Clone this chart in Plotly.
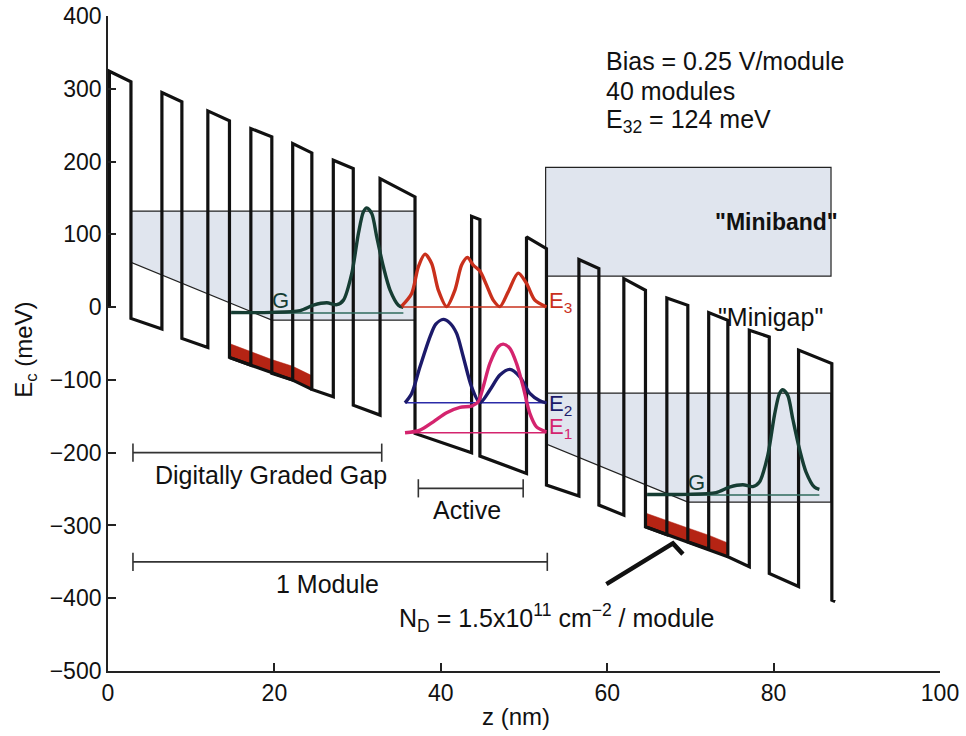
import plotly.graph_objects as go

FONT = "Liberation Sans, Arial, Helvetica, sans-serif"

# ---------------- data ----------------
# conduction-band layer structure (nm) and well-floor energy at each barrier edge (meV)
barrier_left_z = [0.17, 6.48, 12.0, 17.17, 22.2, 27.08, 32.7, 43.7, 50.3, 56.6, 62.0, 67.17, 72.2, 77.08, 83.0]
barrier_right_z = [2.76, 8.88, 14.6, 19.69, 24.5, 29.48, 36.9, 44.7, 52.7, 59.0, 64.6, 69.69, 74.5, 79.48, 87.0]
floor_left_E = [-1, -30.2, -55.4, -79.7, -100.3, -123.2, -148.4, -200.2, -228.5, -259.7, -285.8, -312.6, -332.4, -356.8, -384]
floor_right_E = [-15.5, -43, -69.1, -91.1, -113.1, -134.7, -173.6, -204.7, -244.6, -272, -301.9, -322.5, -343, -365.9, -402.6]
barrier_height = 325
tail_z, tail_E = 87.4, -404.5

module_period = 50      # nm
module_drop = 250       # meV (0.25 V/module)

# doped layers (nm) and sheet thickness drawn (meV)
doped_ranges = [(14.6, 24.5), (64.6, 74.5)]
doped_height = 19

# graded-gap "miniband" shading (first module, repeated in the next)
shade_z = [2.76, 36.9, 36.9, 19.7, 2.76, 2.76]
shade_E = [131.9, 131.9, -17.9, -17.9, 61.5, 131.9]

# "Miniband" box
miniband_z = [52.6, 86.9]
miniband_E = [42.6, 192]

# ground state G of the injector
G_z = [14.8, 19.6, 23.1, 24.7, 26.3, 27.5, 28.3, 29.3, 30.1, 30.7, 31.1, 31.7, 32.3, 33.1, 33.9, 34.9, 35.5]
G_E = [-7.5, -7.3, -4.8, 2.7, 5.9, 3.4, 9.6, 46.3, 101.3, 130.9, 136.4, 128.7, 96.6, 55.4, 23.4, 2.7, -0.4]
G_level = -8.2
G_level_z = [14.8, 35.5]

# active-region states
E3_z = [35.3, 36.5, 37.3, 38.1, 38.9, 39.7, 40.7, 41.7, 42.5, 43.2, 43.9, 44.7, 45.5, 46.3, 47.1, 48.1, 49.3, 50.3, 51.3, 52.7]
E3_E = [1.4, 18.8, 55.4, 72.8, 60.0, 23.4, 0.7, 23.4, 57.7, 68.3, 57.7, 49.5, 30.2, 9.6, 0.7, 21.0, 46.7, 32.6, 9.6, 0.4]
E2_z = [35.7, 36.5, 37.5, 38.7, 39.4, 40.3, 41.1, 41.9, 42.7, 43.7, 44.7, 45.9, 47.1, 48.3, 49.5, 50.7, 51.9, 52.7]
E2_E = [-131.5, -118.6, -82.0, -40.8, -23.4, -16.9, -22.0, -36.1, -68.3, -109.5, -131.5, -114.0, -93.4, -85.6, -95.8, -118.6, -128.7, -131.5]
E1_z = [35.7, 37.5, 39.1, 40.7, 42.3, 43.7, 44.5, 45.1, 45.9, 46.9, 47.5, 48.3, 49.1, 49.9, 50.7, 51.5, 52.7]
E1_E = [-172.7, -169.0, -157.6, -145.2, -137.8, -136.0, -130.1, -109.5, -77.4, -54.5, -50.8, -56.7, -77.4, -109.5, -146.1, -164.5, -171.3]
level_E3, level_E2, level_E1 = 0.0, -131.5, -172.7
level_z_E3 = [35.3, 52.7]
level_z_E21 = [35.7, 52.7]

# dimension bars: (z_start, z_end, E)
bar_graded = (3.0, 32.9, -200)
bar_active = (37.3, 49.9, -249)
bar_module = (3.0, 52.8, -350)

# pointer to the doping
pointer_z = [59.9, 67.9, 69.1]
pointer_E = [-380.6, -324.7, -339.4]

x_ticks = [0, 20, 40, 60, 80, 100]
y_ticks = [-500, -400, -300, -200, -100, 0, 100, 200, 300, 400]

# ---------------- colours ----------------
C_PROFILE = "#111111"
C_SHADE = "rgba(224,229,238,1)"
C_DOPE = "#b52414"
C_G = "#163d33"
C_GLEVEL = "#2f6a5c"
C_E3 = "#c9301c"
C_E2 = "#1c1a6a"
C_E2L = "#2b2ba8"
C_E1 = "#d4246e"

fig = go.Figure()

# shaded minibands (module 1 and module 2)
for m in range(2):
    fig.add_trace(go.Scatter(
        x=[z + m * module_period for z in shade_z],
        y=[e - m * module_drop for e in shade_E],
        mode="lines", fill="toself", fillcolor=C_SHADE,
        line=dict(color="#222222", width=1.2), hoverinfo="skip"))

# "Miniband" box
fig.add_trace(go.Scatter(
    x=[miniband_z[0], miniband_z[1], miniband_z[1], miniband_z[0], miniband_z[0]],
    y=[miniband_E[0], miniband_E[0], miniband_E[1], miniband_E[1], miniband_E[0]],
    mode="lines", fill="toself", fillcolor=C_SHADE,
    line=dict(color="#222222", width=1.2), hoverinfo="skip"))

# doped sheets
edges = sorted(list(zip(barrier_left_z, floor_left_E)) + list(zip(barrier_right_z, floor_right_E)))
for z0, z1 in doped_ranges:
    pts = [(z, e) for z, e in edges if z0 - 1e-6 <= z <= z1 + 1e-6]
    bz = [p[0] for p in pts]
    be = [p[1] for p in pts]
    fig.add_trace(go.Scatter(
        x=bz + bz[::-1] + [bz[0]],
        y=[e + doped_height for e in be] + [e for e in be[::-1]] + [be[0] + doped_height],
        mode="lines", fill="toself", fillcolor=C_DOPE,
        line=dict(color=C_DOPE, width=0.5), hoverinfo="skip"))
    fig.add_trace(go.Scatter(x=bz, y=be, mode="lines",
                             line=dict(color=C_PROFILE, width=3.2), hoverinfo="skip"))

# conduction band profile
pz, pe = [], []
for zl, zr, fl, fr in zip(barrier_left_z, barrier_right_z, floor_left_E, floor_right_E):
    pz += [zl, zl, zr, zr]
    pe += [fl, fl + barrier_height, fr + barrier_height, fr]
pz.append(tail_z)
pe.append(tail_E)
fig.add_trace(go.Scatter(x=pz, y=pe, mode="lines",
                         line=dict(color=C_PROFILE, width=3.2), hoverinfo="skip"))

# G levels and wavefunctions
for m in range(2):
    fig.add_trace(go.Scatter(
        x=[z + m * module_period for z in G_level_z],
        y=[G_level - m * module_drop] * 2,
        mode="lines", line=dict(color=C_GLEVEL, width=1.5), hoverinfo="skip"))
    fig.add_trace(go.Scatter(
        x=[z + m * module_period for z in G_z],
        y=[e - m * module_drop for e in G_E],
        mode="lines", line=dict(color=C_G, width=3.4, shape="spline", smoothing=0.8),
        hoverinfo="skip"))

# active-region levels
fig.add_trace(go.Scatter(x=level_z_E3, y=[level_E3] * 2, mode="lines",
                         line=dict(color=C_E3, width=1.5), hoverinfo="skip"))
fig.add_trace(go.Scatter(x=level_z_E21, y=[level_E2] * 2, mode="lines",
                         line=dict(color=C_E2L, width=1.5), hoverinfo="skip"))
fig.add_trace(go.Scatter(x=level_z_E21, y=[level_E1] * 2, mode="lines",
                         line=dict(color=C_E1, width=1.5), hoverinfo="skip"))
for zz, ee, col in [(E3_z, E3_E, C_E3), (E2_z, E2_E, C_E2), (E1_z, E1_E, C_E1)]:
    fig.add_trace(go.Scatter(x=zz, y=ee, mode="lines",
                             line=dict(color=col, width=3.4, shape="spline", smoothing=0.8),
                             hoverinfo="skip"))

# dimension bars
for z0, z1, e in [bar_graded, bar_active, bar_module]:
    fig.add_trace(go.Scatter(x=[z0, z1], y=[e, e], mode="lines+markers",
                             line=dict(color="#333333", width=1.6),
                             marker=dict(symbol="line-ns", size=13,
                                         line=dict(color="#333333", width=1.6)),
                             hoverinfo="skip"))

# pointer
fig.add_trace(go.Scatter(x=pointer_z, y=pointer_E, mode="lines",
                         line=dict(color="#111111", width=4.5), hoverinfo="skip"))

def ann(text, x, y, size=25, color="#111111", xanchor="center", yanchor="middle",
        xref="x", yref="y", textangle=0, bold=False):
    fig.add_annotation(text=("<b>%s</b>" % text) if bold else text, x=x, y=y,
                       xref=xref, yref=yref, showarrow=False,
                       xanchor=xanchor, yanchor=yanchor, textangle=textangle,
                       font=dict(family=FONT, size=size, color=color))

ann("Bias = 0.25 V/module", 59.6, 338, xanchor="left")
ann("40 modules", 59.6, 297, xanchor="left")
ann("E<sub>32</sub> = 124 meV", 59.6, 256, xanchor="left")
ann('"Miniband"', 80.3, 117, size=23, bold=True)
ann('"Minigap"', 79.6, -13)
ann("Digitally Graded Gap", 19.6, -231)
ann("Active", 43.2, -279)
ann("1 Module", 26.4, -380)
ann("N<sub>D</sub> = 1.5x10<sup>11</sup> cm<sup>−2</sup> / module", 34.7, -427, xanchor="left")
ann("E<sub>3</sub>", 52.8, 7, size=22, color=C_E3, xanchor="left")
ann("E<sub>2</sub>", 52.8, -135, size=22, color=C_E2, xanchor="left")
ann("E<sub>1</sub>", 52.8, -166, size=22, color=C_E1, xanchor="left")
for m in range(2):
    ann("G", 20.7 + m * module_period, 9 - m * module_drop, size=22, color=C_G)

# axis titles
ann("z (nm)", 0.49, -0.07, xref="paper", yref="paper", size=24)
ann("E<sub>c</sub> (meV)", -0.1, 0.49, xref="paper", yref="paper", size=24, textangle=-90)

axis_common = dict(showline=True, linecolor="#222222", linewidth=1.8,
                   ticks="inside", ticklen=8, tickwidth=1.5, tickcolor="#222222",
                   showgrid=False, zeroline=False, automargin=False,
                   ticklabeloverflow="allow",
                   tickfont=dict(family=FONT, size=23, color="#111111"))
fig.update_layout(
    width=966, height=736,
    margin=dict(l=108, r=26, t=16, b=65, autoexpand=False),
    plot_bgcolor="white", paper_bgcolor="white",
    showlegend=False,
    xaxis=dict(range=[0, 100], tickvals=x_ticks, **axis_common),
    yaxis=dict(range=[-500, 400], tickvals=y_ticks, **axis_common),
)

# remove the browser's default 8 px page margin so the figure fills the window
fig.write_html("out.html",
               config={"displayModeBar": False},
               post_script="document.body.style.margin='0';document.body.style.overflow='hidden';")
